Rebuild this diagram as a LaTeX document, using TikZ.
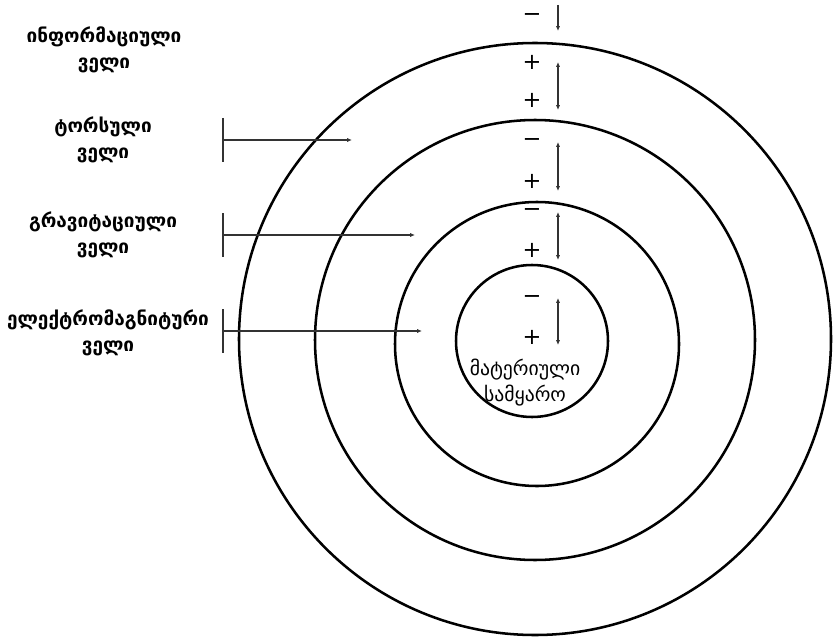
\documentclass[tikz,border=0pt]{standalone}
\usepackage{fontspec}
\newfontfamily\geofont{DejaVu Sans}
\usetikzlibrary{arrows.meta}

\tikzset{
  field/.style={line width=1.8pt},
  thinline/.style={line width=1pt, black!80},
  tip/.style={-{Latex[length=3.5pt,width=3pt]}},
  dbltip/.style={{Latex[length=3.5pt,width=3pt]}-{Latex[length=3.5pt,width=3pt]}},
  fieldlabel/.style={align=center, font=\geofont\bfseries\fontsize{13.5}{18.5}\selectfont},
  worldlabel/.style={align=center, font=\geofont\fontsize{14}{18.5}\selectfont},
  sign/.style={font=\geofont\fontsize{16}{16}\selectfont, inner sep=0pt}
}

\begin{document}
\begin{tikzpicture}[x=0.025cm, y=-0.025cm]
\useasboundingbox (0,0) rectangle (836,644);

% ===== Nested fields, pixel-like coordinates (y grows downwards) =====
\draw[field] (535,339) circle[radius=296];
\draw[field] (535,340) circle[radius=220];
\draw[field] (537,344) circle[radius=142];
\draw[field] (532,341) circle[radius=76];

% ----- Field names on the left -----
\node[fieldlabel] (info)  at (104,50)  {ინფორმაციული\\ველი};
\node[fieldlabel] (tors)  at (103,140) {ტორსული\\ველი};
\node[fieldlabel] (grav)  at (103,235) {გრავიტაციული\\ველი};
\node[fieldlabel] (elmag) at (108,333) {ელექტრომაგნიტური\\ველი};
\node[worldlabel] (matter) at (525,383) {მატერიული\\სამყარო};

% ----- Bars with pointers into the rings -----
\foreach \y/\xe/\name in {140/352/tors, 235/415/grav, 331/422/elmag} {
  \draw[thinline] (223,\y-22) -- (223,\y+22);
  \coordinate (\name-s) at (223,\y);
  \coordinate (\name-e) at (\xe,\y);
  \draw[thinline, tip] (\name-s) -- (\name-e);
}

% ----- Charges and their arrows -----
\draw[thinline, tip] (558,5) -- (558,31);
\foreach \ya/\yb in {62/110, 142/191, 212/260, 298/345}
  \draw[thinline, dbltip] (558,\ya) -- (558,\yb);

\foreach \y in {18, 143, 213, 300}
  \node[sign] at (532,\y) {−};
\foreach \y in {62, 100, 181, 250, 337}
  \node[sign] at (532,\y) {+};

\end{tikzpicture}
\end{document}
